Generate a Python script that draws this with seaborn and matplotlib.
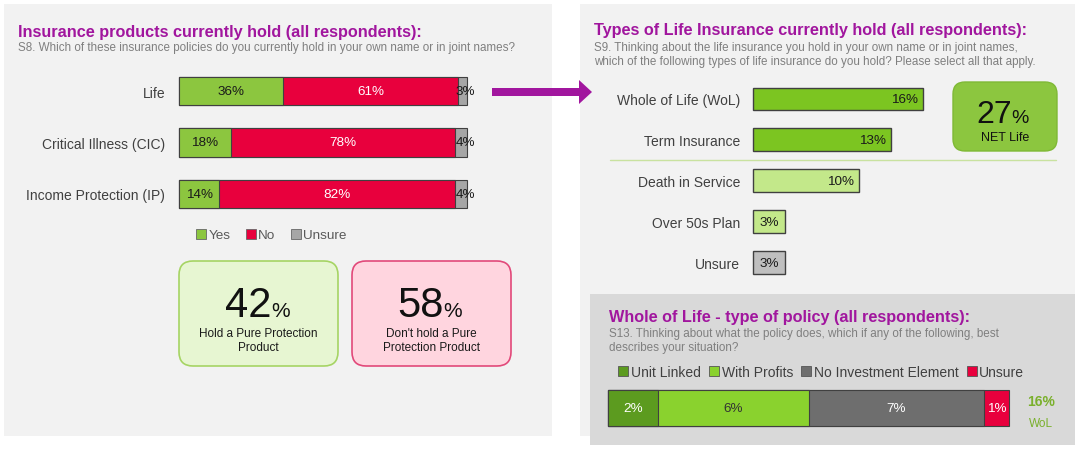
import numpy as np
import pandas as pd
import seaborn as sns
import matplotlib.pyplot as plt
from matplotlib.patches import Rectangle, FancyBboxPatch, FancyArrow
from matplotlib.lines import Line2D

# S8 - insurance products currently held
products = ['Life', 'Critical Illness (CIC)', 'Income Protection (IP)']
answers = ['Yes', 'No', 'Unsure']
yes = [36, 18, 14]
no = [61, 78, 82]
unsure = [3, 4, 4]
pure_hold = 42
pure_not = 58

# S9 - types of life insurance held
life_types = ['Whole of Life (WoL)', 'Term Insurance', 'Death in Service', 'Over 50s Plan', 'Unsure']
life_pct = [16, 13, 10, 3, 3]
net_life = 27

# S13 - whole of life, type of policy
policy_types = ['Unit Linked', 'With Profits', 'No Investment Element', 'Unsure']
policy_pct = [2, 6, 7, 1]
wol_total = 16

GREEN = '#8cc63f'
RED = '#e8003d'
GREY = '#a6a6a6'
PURPLE = '#a1169e'
TEXT = '#404040'
EDGE = '#404040'

sns.set_style('white')
plt.rcParams['font.family'] = ['Liberation Sans', 'DejaVu Sans']

W, H = 1080, 452
fig = plt.figure(figsize=(W / 100, H / 100), dpi=100)


def px_axes(x0, y0, x1, y1):
    # axes placed by pixel box (top-left origin)
    a = fig.add_axes([x0 / W, 1 - y1 / H, (x1 - x0) / W, (y1 - y0) / H])
    a.patch.set_alpha(0)
    return a


def unclip(a):
    for p in a.patches:
        p.set_clip_on(False)


# background layer in pixel coordinates
bg = fig.add_axes([0, 0, 1, 1])
bg.set_xlim(0, W)
bg.set_ylim(H, 0)
bg.axis('off')
bg.add_patch(Rectangle((4, 5), 548, 432, fc='#f2f2f2', ec='none'))
bg.add_patch(Rectangle((580, 5), 495, 432, fc='#f2f2f2', ec='none'))
bg.add_patch(Rectangle((590, 295), 485, 151, fc='#d9d9d9', ec='none'))

# titles
bg.text(18, 32, 'Insurance products currently hold (all respondents):', color=PURPLE,
        fontsize=11.7, fontweight='bold', va='center')
bg.text(18, 48, 'S8. Which of these insurance policies do you currently hold in your own name or in joint names?',
        color='#7f7f7f', fontsize=8.4, va='center')
bg.text(594, 31, 'Types of Life Insurance currently hold (all respondents):', color=PURPLE,
        fontsize=11.7, fontweight='bold', va='center')
bg.text(594, 55, 'S9. Thinking about the life insurance you hold in your own name or in joint names,\n'
        'which of the following types of life insurance do you hold? Please select all that apply.',
        color='#7f7f7f', fontsize=8.4, va='center', linespacing=1.2)
bg.text(609, 318, 'Whole of Life - type of policy (all respondents):', color=PURPLE,
        fontsize=11.7, fontweight='bold', va='center')
bg.text(609, 341, 'S13. Thinking about what the policy does, which if any of the following, best\n'
        'describes your situation?', color='#7f7f7f', fontsize=8.4, va='center', linespacing=1.15)

# arrow linking Life to the life types panel
bg.add_patch(FancyArrow(492, 93, 100, 0, width=8, head_width=24, head_length=13,
                        length_includes_head=True, color=PURPLE, lw=0))

# separator under term insurance
bg.plot([610, 1056], [161, 161], color='#c9e2a0', lw=1)

# summary boxes
bg.add_patch(FancyBboxPatch((179, 262), 159, 105, boxstyle='round,pad=0,rounding_size=14',
                            fc='#e7f6d2', ec='#a6d464', lw=1.2))
bg.add_patch(FancyBboxPatch((352, 262), 159, 105, boxstyle='round,pad=0,rounding_size=14',
                            fc='#ffd5df', ec='#e2497a', lw=1.2))
bg.text(272, 317, str(pure_hold), fontsize=30, ha='right', va='baseline', color='#111111')
bg.text(271, 317, '%', fontsize=15, ha='left', va='baseline', color='#111111')
bg.text(258.5, 341, 'Hold a Pure Protection\nProduct', fontsize=8.5, ha='center', va='center',
        color='#1a1a1a', linespacing=1.3)
bg.text(444, 317, str(pure_not), fontsize=30, ha='right', va='baseline', color='#111111')
bg.text(443, 317, '%', fontsize=15, ha='left', va='baseline', color='#111111')
bg.text(431.5, 341, "Don't hold a Pure\nProtection Product", fontsize=8.5, ha='center', va='center',
        color='#1a1a1a', linespacing=1.3)

bg.add_patch(FancyBboxPatch((953, 83), 104, 69, boxstyle='round,pad=0,rounding_size=12',
                            fc='#8cc63f', ec='#7fb935', lw=1))
bg.text(1012, 123, str(net_life), fontsize=23, ha='right', va='baseline', color='#111111')
bg.text(1011, 123, '%', fontsize=14, ha='left', va='baseline', color='#111111')
bg.text(1005, 138, 'NET Life', fontsize=9, ha='center', va='center', color='#111111')

bg.text(1041, 402, f'{wol_total}%', fontsize=10, fontweight='bold', ha='center', va='center', color='#7ab02c')
bg.text(1041, 424, 'WoL', fontsize=8.5, ha='center', va='center', color='#7ab02c')

# ---- S8 stacked bars
ax1 = px_axes(179, 92 - 25.75, 467, 195 + 25.75)
df = pd.DataFrame({'product': products, 'Yes': yes, 'No': no, 'Unsure': unsure})
cum = df[answers].cumsum(axis=1)
for col, color in reversed(list(zip(answers, [GREEN, RED, GREY]))):
    sns.barplot(x=cum[col], y=df['product'], color=color, saturation=1, width=0.55,
                edgecolor=EDGE, linewidth=0.8, orient='h', ax=ax1)
unclip(ax1)
for i in range(len(products)):
    ax1.text(cum['Yes'][i] / 2, i, f'{yes[i]}%', ha='center', va='center', fontsize=9.7, color='#1a1a1a')
    ax1.text(cum['Yes'][i] + no[i] / 2, i, f'{no[i]}%', ha='center', va='center', fontsize=9.7, color='white')
    ax1.text(99.5, i, f'{unsure[i]}%', ha='center', va='center', fontsize=9.7, color='#1a1a1a')
ax1.set_xlim(0, 100)
ax1.set_ylim(2.5, -0.5)
ax1.set_xlabel('')
ax1.set_ylabel('')
ax1.set_xticks([])
ax1.tick_params(axis='y', length=0, pad=10, labelsize=10, labelcolor=TEXT)
sns.despine(ax=ax1, left=True, bottom=True)

handles = [Line2D([], [], marker='s', ls='none', markersize=7, markerfacecolor=c, markeredgecolor='#666666',
                  markeredgewidth=0.6) for c in [GREEN, RED, GREY]]
leg = bg.legend(handles, answers, loc='center', bbox_to_anchor=(271, 236), bbox_transform=bg.transData,
                ncol=3, frameon=False, fontsize=9.7, handlelength=0.8, handletextpad=0.15,
                columnspacing=1.1, labelcolor='#595959')

# ---- S9 bars
ax2 = px_axes(753, 100 - 20.45, 923, 263.5 + 20.45)
bar_colors = ['#7cc521', '#7cc521', '#c3e88a', '#c3e88a', '#bfbfbf']
sns.barplot(x=life_pct, y=life_types, hue=life_types, palette=bar_colors, legend=False, saturation=1,
            width=0.56, edgecolor=EDGE, linewidth=1, orient='h', ax=ax2)
unclip(ax2)
for i, v in enumerate(life_pct):
    if v >= 5:
        ax2.text(v - 0.45, i, f'{v}%', ha='right', va='center', fontsize=9.7, color='#1a1a1a')
    else:
        ax2.text(v / 2, i, f'{v}%', ha='center', va='center', fontsize=9.7, color='#1a1a1a')
ax2.set_xlim(0, 16)
ax2.set_ylim(4.5, -0.5)
ax2.set_xlabel('')
ax2.set_ylabel('')
ax2.set_xticks([])
ax2.tick_params(axis='y', length=0, pad=9.4, labelsize=10, labelcolor=TEXT)
sns.despine(ax=ax2, left=True, bottom=True)

# ---- S13 stacked bar
ax3 = px_axes(608, 391, 1009, 427)
pol_colors = ['#5c9b1f', '#8ad22e', '#6e6e6e', RED]
pol_cum = np.cumsum(policy_pct)
for c, color in reversed(list(zip(pol_cum, pol_colors))):
    sns.barplot(x=[c], y=['WoL'], color=color, saturation=1, width=1.0, edgecolor=EDGE,
                linewidth=0.8, orient='h', ax=ax3)
unclip(ax3)
label_colors = ['white', '#333333', 'white', 'white']
for v, c, lc in zip(policy_pct, pol_cum, label_colors):
    ax3.text(c - v / 2, 0, f'{v}%', ha='center', va='center', fontsize=9.7, color=lc)
ax3.set_xlim(0, wol_total)
ax3.set_ylim(0.5, -0.5)
ax3.set_xticks([])
ax3.set_yticks([])
ax3.set_xlabel('')
ax3.set_ylabel('')
sns.despine(ax=ax3, left=True, bottom=True)

handles3 = [Line2D([], [], marker='s', ls='none', markersize=7, markerfacecolor=c, markeredgecolor='#555555',
                   markeredgewidth=0.6) for c in pol_colors]
bg.legend(handles3, policy_types, loc='center', bbox_to_anchor=(821, 373), bbox_transform=bg.transData,
          ncol=4, frameon=False, fontsize=10, handlelength=0.8, handletextpad=0.15,
          columnspacing=0.55, labelcolor='#404040')
bg.add_artist(leg)

fig.savefig('out.png', dpi=100)
